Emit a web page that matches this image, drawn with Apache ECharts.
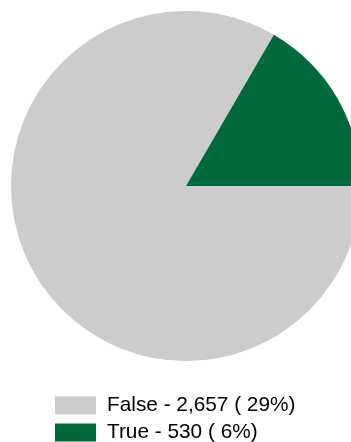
<!DOCTYPE html>
<html><head><meta charset="utf-8">
<script src="https://cdn.jsdelivr.net/npm/echarts@6/dist/echarts.min.js"></script>
<style>html,body{margin:0;padding:0;background:#fff}#c{width:351px;height:442px}</style>
</head><body><div id="c"></div>
<script>
const categories = ['False', 'True'];
const values = [2657, 530];
const shownPercents = ['29%', '6%'];
const colors = ['#cccccc', '#006a3c'];

const chart = echarts.init(document.getElementById('c'), null, {renderer: 'canvas'});
const fmt = n => n.toLocaleString('en-US');
const legendRowTops = [395, 422];
chart.setOption({
  animation: false,
  color: colors,
  legend: categories.map((c, i) => ({
    orient: 'vertical',
    left: 55,
    top: legendRowTops[i],
    padding: 0,
    itemWidth: 41,
    itemHeight: 18,
    icon: 'rect',
    textStyle: {fontFamily: 'Liberation Sans', fontSize: 20.8, color: '#000', padding: [0,0,0,6]},
    formatter: name => {
      const k = categories.indexOf(name);
      return name + ' - ' + fmt(values[k]) + ' ( ' + shownPercents[k] + ')';
    },
    data: [c]
  })),
  series: [{
    type: 'pie',
    center: [186, 186],
    radius: 175,
    startAngle: 0,
    clockwise: true,
    label: {show: false},
    labelLine: {show: false},
    emphasis: {disabled: true},
    itemStyle: {borderWidth: 0},
    data: categories.map((c, i) => ({name: c, value: values[i]}))
  }]
});
</script></body></html>
